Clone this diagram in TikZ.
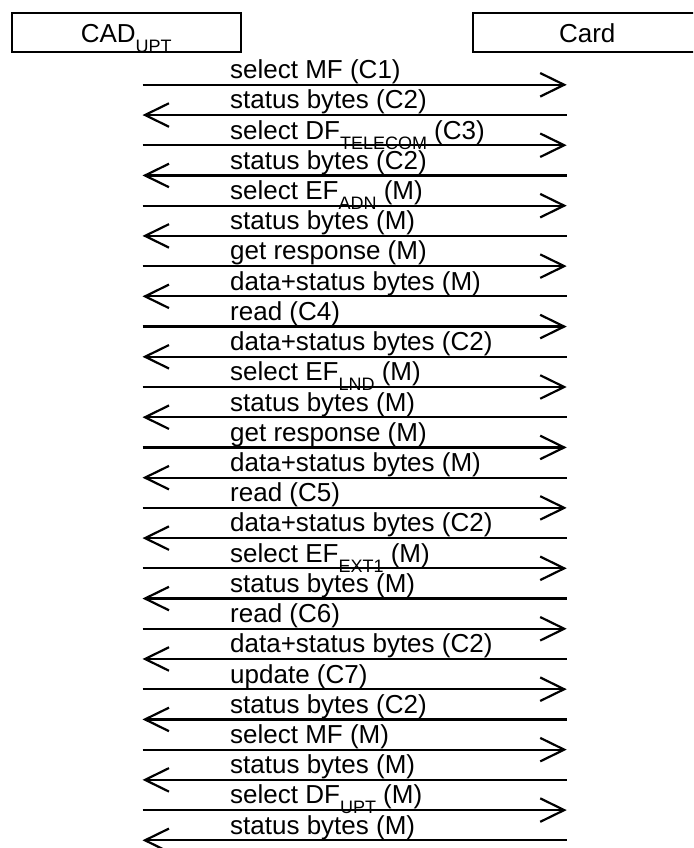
\documentclass[tikz,border=0pt]{standalone}
\usepackage{fontspec}
\setmainfont{Liberation Sans}
\usetikzlibrary{arrows.meta}
\newcommand{\lowtext}[1]{\raisebox{-10pt}{\fontsize{18}{18}\selectfont #1}}

\begin{document}
\begin{tikzpicture}[x=1pt,y=-1pt,font=\fontsize{26}{28}\selectfont,
  partbox/.style={draw,line width=2.2pt,minimum width=229pt,minimum height=39pt,
                  inner sep=0pt,text height=19.8pt,text depth=0pt},
  msgtext/.style={anchor=base west,inner sep=0pt},
  tocard/.style={line width=2.2pt,-{Straight Barb[length=24pt,width=23.5pt]}},
  tocad/.style={line width=2.2pt,{Straight Barb[length=24pt,width=23.5pt]}-}]

  \clip (0,0) rectangle (693,848);

  % --- parties ---
  \node[partbox] (cad)  at (126.2,32.8) {CAD\lowtext{UPT}};
  \node[partbox] (card) at (587.2,32.8) {Card};

  % --- messages ---
  \foreach \dir/\msg [count=\i from 0] in {
      tocard/{select MF (C1)},
      tocad/{status bytes (C2)},
      tocard/{select DF\lowtext{TELECOM} (C3)},
      tocad/{status bytes (C2)},
      tocard/{select EF\lowtext{ADN} (M)},
      tocad/{status bytes (M)},
      tocard/{get response (M)},
      tocad/{data+status bytes (M)},
      tocard/{read (C4)},
      tocad/{data+status bytes (C2)},
      tocard/{select EF\lowtext{LND} (M)},
      tocad/{status bytes (M)},
      tocard/{get response (M)},
      tocad/{data+status bytes (M)},
      tocard/{read (C5)},
      tocad/{data+status bytes (C2)},
      tocard/{select EF\lowtext{EXT1} (M)},
      tocad/{status bytes (M)},
      tocard/{read (C6)},
      tocad/{data+status bytes (C2)},
      tocard/{update (C7)},
      tocad/{status bytes (C2)},
      tocard/{select MF (M)},
      tocad/{status bytes (M)},
      tocard/{select DF\lowtext{UPT} (M)},
      tocad/{status bytes (M)}} {
    \coordinate (cadend\i)  at (142.5,84.8+30.22*\i);
    \coordinate (cardend\i) at (566.7,84.8+30.22*\i);
    \draw[\dir] (cadend\i) -- (cardend\i);
    \node[msgtext] (msg\i) at (230,78.6+30.22*\i) {\msg};
  }

\end{tikzpicture}
\end{document}
